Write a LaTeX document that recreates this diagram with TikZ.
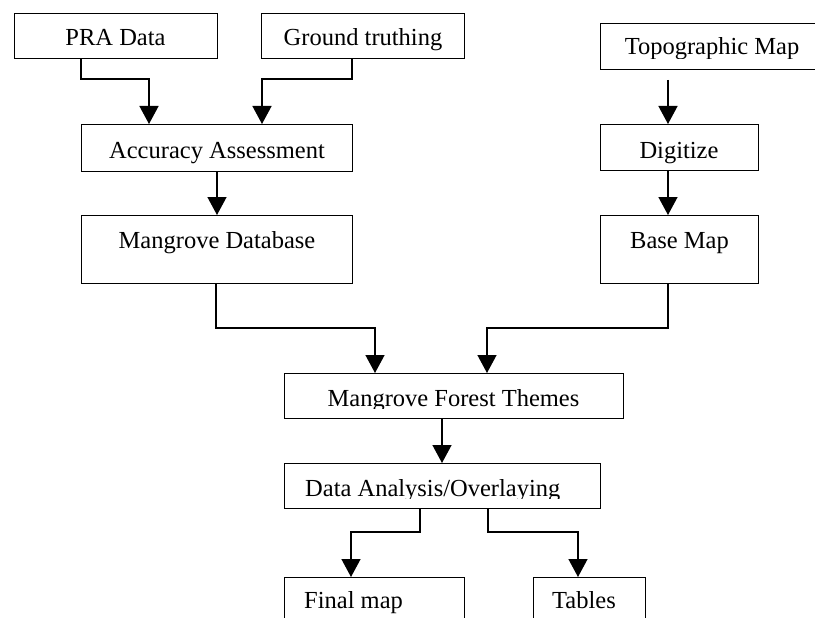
\documentclass[tikz,border=0pt]{standalone}
\usepackage{fontspec}
\setmainfont{Liberation Serif}
\usetikzlibrary{arrows.meta,calc}
\begin{document}
\begin{tikzpicture}[x=1pt,y=-1pt,
  boxst/.style={draw, line width=1.4pt, rectangle, inner sep=0pt, anchor=north west},
  lbl/.style={anchor=base, inner sep=0pt, font=\fontsize{24.5}{29}\selectfont},
  lblw/.style={lbl, anchor=base west},
  conn/.style={line width=1.4pt, -{Triangle[width=19pt,length=18pt]}}]
\useasboundingbox (0,0) rectangle (815,618);

% boxes
\node[boxst, minimum width=203pt, minimum height=45pt] (pra) at (14,13) {};
\node[boxst, minimum width=203pt, minimum height=45pt] (gt) at (261,13) {};
\node[boxst, minimum width=230pt, minimum height=46pt] (topo) at (600,23) {};
\node[boxst, minimum width=271pt, minimum height=47pt] (acc) at (81,124) {};
\node[boxst, minimum width=158pt, minimum height=46pt] (dig) at (600,124) {};
\node[boxst, minimum width=271pt, minimum height=68pt] (mdb) at (81,215) {};
\node[boxst, minimum width=158pt, minimum height=68pt] (base) at (600,215) {};
\node[boxst, minimum width=339pt, minimum height=45pt] (mft) at (284,373) {};
\node[boxst, minimum width=316pt, minimum height=45pt] (da) at (284,463) {};
\node[boxst, minimum width=180pt, minimum height=80pt] (final) at (284,577) {};
\node[boxst, minimum width=112pt, minimum height=80pt] (tables) at (533,577) {};

% labels
\node[lbl] (tpra) at (115.5,46) {PRA Data};
\begin{scope}
  \clip (261,13) rectangle (464,54.5);
  \node[lbl] (tgt) at (363,46) {Ground truthing};
\end{scope}
\begin{scope}
  \clip (600,23) rectangle (815,59);
  \node[lbl] (ttopo) at (712,55) {Topographic Map};
\end{scope}
\node[lbl] (tacc) at (217,158) {Accuracy Assessment};
\node[lbl] (tdig) at (679,158) {Digitize};
\node[lbl] (tmdb) at (217,248) {Mangrove Database};
\node[lbl] (tbase) at (679.5,248) {Base Map};
\begin{scope}
  \clip (284,373) rectangle (623,408);
  \node[lbl] (tmft) at (453.5,406) {Mangrove Forest Themes};
\end{scope}
\begin{scope}
  \clip (284,463) rectangle (600,498.5);
  \node[lblw] (tda) at (305,496) {Data Analysis/Overlaying};
\end{scope}
\begin{scope}
  \clip (284,577) rectangle (464,613);
  \node[lblw] (tfinal) at (304,608) {Final map};
\end{scope}
\node[lblw] (ttables) at (552,608) {Tables};

% junction coordinates
\coordinate (j1) at (149,79);
\coordinate (j2) at (262,79);
\coordinate (j3) at (375,328);
\coordinate (j4) at (487,328);
\coordinate (j5) at (351,532);
\coordinate (j6) at (578,532);
\coordinate (tstart) at (668,80);

% connectors
\draw[conn] ([xshift=67pt]pra.south west) |- (j1) -- (j1 |- acc.north);
\draw[conn] ([xshift=91pt]gt.south west) |- (j2) -- (j2 |- acc.north);
\draw[conn] (tstart) -- (tstart |- dig.north);
\draw[conn] ([xshift=136pt]acc.south west) -- ([xshift=136pt]mdb.north west);
\draw[conn] ([xshift=68pt]dig.south west) -- ([xshift=68pt]base.north west);
\draw[conn] ([xshift=135pt]mdb.south west) |- (j3) -- (j3 |- mft.north);
\draw[conn] ([xshift=68pt]base.south west) |- (j4) -- (j4 |- mft.north);
\draw[conn] ([xshift=158pt]mft.south west) -- ([xshift=158pt]da.north west);
\draw[conn] ([xshift=136pt]da.south west) |- (j5) -- (j5 |- final.north);
\draw[conn] ([xshift=204pt]da.south west) |- (j6) -- (j6 |- tables.north);
\end{tikzpicture}
\end{document}
